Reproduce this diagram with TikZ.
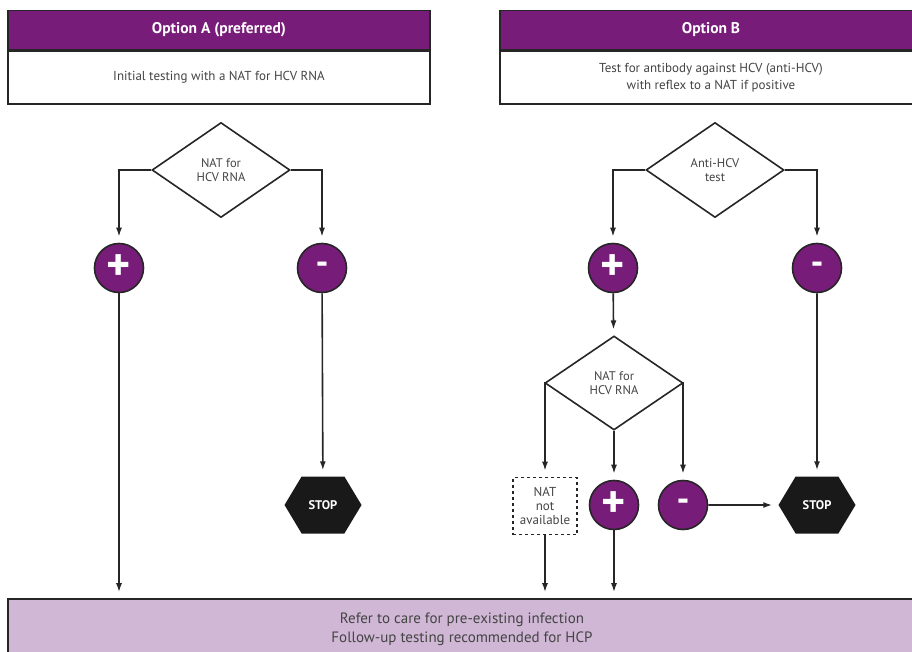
\documentclass[tikz,border=0pt]{standalone}
\usepackage{fontspec}
\setmainfont{PT Sans}
\usetikzlibrary{shapes.geometric, shapes.symbols, arrows.meta, positioning}
\definecolor{optpurple}{HTML}{781C79}
\definecolor{carelilac}{HTML}{CFB7D5}
\definecolor{txtgray}{HTML}{444444}
\tikzset{
    header/.style={rectangle, draw=black!85, line width=1.6pt, fill=optpurple, text=white, font=\fontsize{15.5}{17}\selectfont\bfseries, minimum width=422pt, minimum height=39pt},
    info/.style={rectangle, draw=black!85, line width=1.6pt, fill=white, text=txtgray, align=center, font=\fontsize{13}{17}\selectfont, minimum width=422pt, minimum height=53pt},
    decision/.style={diamond, draw=black!85, line width=1.6pt, fill=white, text=txtgray, align=center, inner sep=0pt, font=\fontsize{12.5}{14}\selectfont, minimum width=138pt, minimum height=95pt},
    result/.style={circle, draw=black!85, line width=1.6pt, fill=optpurple, text=white, inner sep=0pt, minimum size=49pt, font=\fontsize{46}{46}\selectfont\bfseries},
    neg/.style={result, font=\fontsize{36}{36}\selectfont\bfseries},
    stopsign/.style={signal, signal to=east and west, signal pointer angle=118, fill=black!90, text=white, inner sep=0pt, minimum width=77pt, minimum height=57pt, font=\fontsize{12.5}{14}\selectfont\bfseries},
    missing/.style={rectangle, draw=black!85, dashed, line width=1.6pt, text=txtgray, align=center, inner sep=1pt, minimum width=64pt, minimum height=57pt, font=\fontsize{13}{14}\selectfont},
    arrow/.style={line width=1.6pt, draw=black!85, -{Latex[length=9pt, width=6pt]}, shorten >=6pt}
}

\begin{document}
\begin{tikzpicture}[x=1pt, y=-1pt, node distance=0pt]
    \clip (0,0) rectangle (912,652);
    % option A
    \node[header] (hdrA) at (219,30) {Option A (preferred)};
    \node[info, below=of hdrA] (initA) {Initial testing with a NAT for HCV RNA};
    \node[decision] (natA) at (221,170) {NAT for\\HCV RNA};
    \node[result] (posA) at (119,268) {+};
    \node[neg] (negA) at (322,268) {-};
    \node[stopsign] (stopA) at (323,505) {STOP};
    % option B
    \node[header] (hdrB) at (711,30) {Option B};
    \node[info, below=of hdrB] (initB) {Test for antibody against HCV (anti-HCV)\\with reflex to a NAT if positive};
    \node[decision] (antiB) at (715,170) {Anti-HCV\\test};
    \node[result] (posB) at (613,268) {+};
    \node[neg] (negB) at (817,268) {-};
    \node[decision, minimum height=94pt] (natB) at (614,383) {NAT for\\HCV RNA};
    \node[missing] (noNat) at (545,506) {NAT\\not\\available};
    \node[result] (posNat) at (614,505) {+};
    \node[neg] (negNat) at (683,505) {-};
    \node[stopsign] (stopB) at (817,505) {STOP};
    % outcome
    \node[rectangle, draw=black!85, line width=1.6pt, fill=carelilac, text=txtgray, align=center, font=\fontsize{15}{19}\selectfont, minimum width=908pt, minimum height=61pt] (care) at (462,629.5) {Refer to care for pre-existing infection\\Follow-up testing recommended for HCP};

    \draw[arrow] (natA.west) -| (posA);
    \draw[arrow] (natA.east) -| (negA);
    \draw[arrow] (negA) -- (stopA);
    \draw[arrow] (posA) -- (posA |- care.north);
    \draw[arrow] (antiB.west) -| (posB);
    \draw[arrow] (antiB.east) -| (negB);
    \draw[arrow] (posB) -- (natB);
    \draw[arrow] (negB) -- (stopB);
    \draw[arrow] (natB.west) -| (noNat);
    \draw[arrow] (natB.south) -- (posNat);
    \draw[arrow] (natB.east) -| (negNat);
    \draw[arrow] (negNat) -- (stopB);
    \draw[arrow] (noNat) -- (noNat |- care.north);
    \draw[arrow] (posNat) -- (posNat |- care.north);
\end{tikzpicture}
\end{document}
